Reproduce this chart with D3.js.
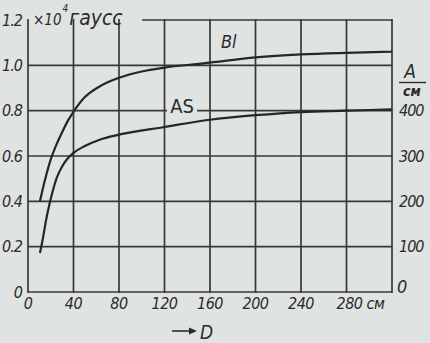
<!DOCTYPE html>
<html>
<head>
<meta charset="utf-8">
<script src="https://cdn.jsdelivr.net/npm/d3@7"></script>
<style>
body { margin: 0; background: #dfe3e2; }
text { font-family: "DejaVu Sans Condensed", "DejaVu Sans", sans-serif; fill: #2a2a2a; }
</style>
</head>
<body>
<div id="chart"></div>
<script>
// D in cm, B in 10^4 gauss, AS in A/cm
var dB = [10.5, 13, 16, 20, 25, 30, 35, 40, 50, 60, 70, 80, 100, 120, 160, 200, 240, 280, 320]
var bl = [0.40, 0.455, 0.515, 0.585, 0.65, 0.705, 0.755, 0.795, 0.86, 0.898, 0.925, 0.945, 0.973, 0.99, 1.012, 1.035, 1.048, 1.055, 1.06]
var dA = [10.5, 13, 16, 19, 22, 25, 30, 35, 40, 50, 63, 80, 120, 160, 200, 240, 280, 320]
var as = [86, 117, 160, 195, 225, 250, 277, 295, 307, 322, 336, 347, 364, 380, 390, 397, 400, 403]

var xTicks = [0, 40, 80, 120, 160, 200, 240, 280, 320]
var xLabels = ["0", "40", "80", "120", "160", "200", "240", "280 см", ""]
var yTicks = [0, 0.2, 0.4, 0.6, 0.8, 1.0, 1.2]
var yLabels = ["0", "0.2", "0.4", "0.6", "0.8", "1.0", "1.2"]
var rTicks = [0, 100, 200, 300, 400]

var width = 430, height = 343
var margin = {left: 28, right: 392, top: 20, bottom: 292}

var svg = d3.select("#chart").append("svg")
    .attr("width", width)
    .attr("height", height)

svg.append("rect").attr("width", width).attr("height", height).attr("fill", "#dfe3e2")

var x = d3.scaleLinear().domain([0, 320]).range([margin.left, margin.right])
var y = d3.scaleLinear().domain([0, 1.2]).range([margin.bottom, margin.top])
var yA = d3.scaleLinear().domain([0, 600]).range([margin.bottom, margin.top])

var grid = svg.append("g").attr("stroke", "#383838").attr("stroke-width", 1.7)

// vertical grid lines
grid.selectAll(".v")
    .data(xTicks)
    .join("line")
    .attr("x1", d => x(d)).attr("x2", d => x(d))
    .attr("y1", y(1.2) - 1).attr("y2", y(0) + 1)

// horizontal grid lines, the top one starts after the unit text
grid.selectAll(".h")
    .data(yTicks)
    .join("line")
    .attr("x1", d => d == 1.2 ? 142 : x(0))
    .attr("x2", x(320))
    .attr("y1", d => y(d)).attr("y2", d => y(d))

// left labels
svg.append("g").selectAll("text")
    .data(yTicks)
    .join("text")
    .attr("x", 22)
    .attr("y", d => y(d))
    .attr("dy", "0.36em")
    .attr("text-anchor", "end")
    .style("font-size", "16px")
    .style("font-style", "italic")
    .style("letter-spacing", "-1px")
    .text((d, i) => yLabels[i])

// bottom labels
svg.append("g").selectAll("text")
    .data(xTicks)
    .join("text")
    .attr("x", (d, i) => i == 7 ? x(d) - 10 : x(d))
    .attr("y", 309)
    .attr("text-anchor", d => d == 280 ? "start" : "middle")
    .style("font-size", "16px")
    .style("font-style", "italic")
    .style("letter-spacing", "-0.5px")
    .text((d, i) => xLabels[i])

// right labels
svg.append("g").selectAll("text")
    .data(rTicks)
    .join("text")
    .attr("x", d => d == 0 ? 397 : 399)
    .attr("y", d => d == 0 ? yA(d) - 5 : yA(d))
    .attr("dy", "0.36em")
    .style("font-size", d => d == 0 ? "18px" : "16px")
    .style("font-style", "italic")
    .style("letter-spacing", "-1px")
    .text(d => d)

// A/см unit on the right
svg.append("text").attr("x", 410).attr("y", 78).attr("text-anchor", "middle")
    .style("font-size", "19px").style("font-style", "italic").text("A")
svg.append("line").attr("x1", 399).attr("x2", 426).attr("y1", 82.5).attr("y2", 82.5)
    .attr("stroke", "#2a2a2a").attr("stroke-width", 1.4)
svg.append("text").attr("x", 412).attr("y", 96).attr("text-anchor", "middle")
    .style("font-size", "14px").style("font-style", "italic").style("font-weight", "bold").text("см")

// top unit text
var unit = svg.append("text").attr("x", 33).attr("y", 25).style("font-style", "italic")
unit.append("tspan").style("font-size", "15px").text("×10")
unit.append("tspan").attr("dy", -13).attr("dx", 1).style("font-size", "10px").text("4")
unit.append("tspan").attr("dy", 13).attr("dx", 1).style("font-size", "21px").text("гаусс")

// curves
var line = d3.line().curve(d3.curveMonotoneX)

svg.append("path")
    .attr("d", line(dB.map((d, i) => [x(d), y(bl[i])])))
    .attr("fill", "none").attr("stroke", "#262626").attr("stroke-width", 2.2)

svg.append("path")
    .attr("d", line(dA.map((d, i) => [x(d), yA(as[i])])))
    .attr("fill", "none").attr("stroke", "#262626").attr("stroke-width", 2.2)

// curve labels
svg.append("rect").attr("x", 167).attr("y", 100).attr("width", 30).attr("height", 16).attr("fill", "#dfe3e2")
svg.append("text").attr("x", 182).attr("y", 113).attr("text-anchor", "middle")
    .style("font-size", "20px").text("AS")
svg.append("text").attr("x", 221).attr("y", 48)
    .style("font-size", "18px").style("font-style", "italic").text("Bl")

// → D
svg.append("line").attr("x1", 172).attr("x2", 190).attr("y1", 331).attr("y2", 331)
    .attr("stroke", "#2a2a2a").attr("stroke-width", 1.6)
svg.append("path").attr("d", "M189,327.5 L197,331 L189,334.5 Z").attr("fill", "#2a2a2a")
svg.append("text").attr("x", 200).attr("y", 339)
    .style("font-size", "19px").style("font-style", "italic").text("D")
</script>
</body>
</html>
